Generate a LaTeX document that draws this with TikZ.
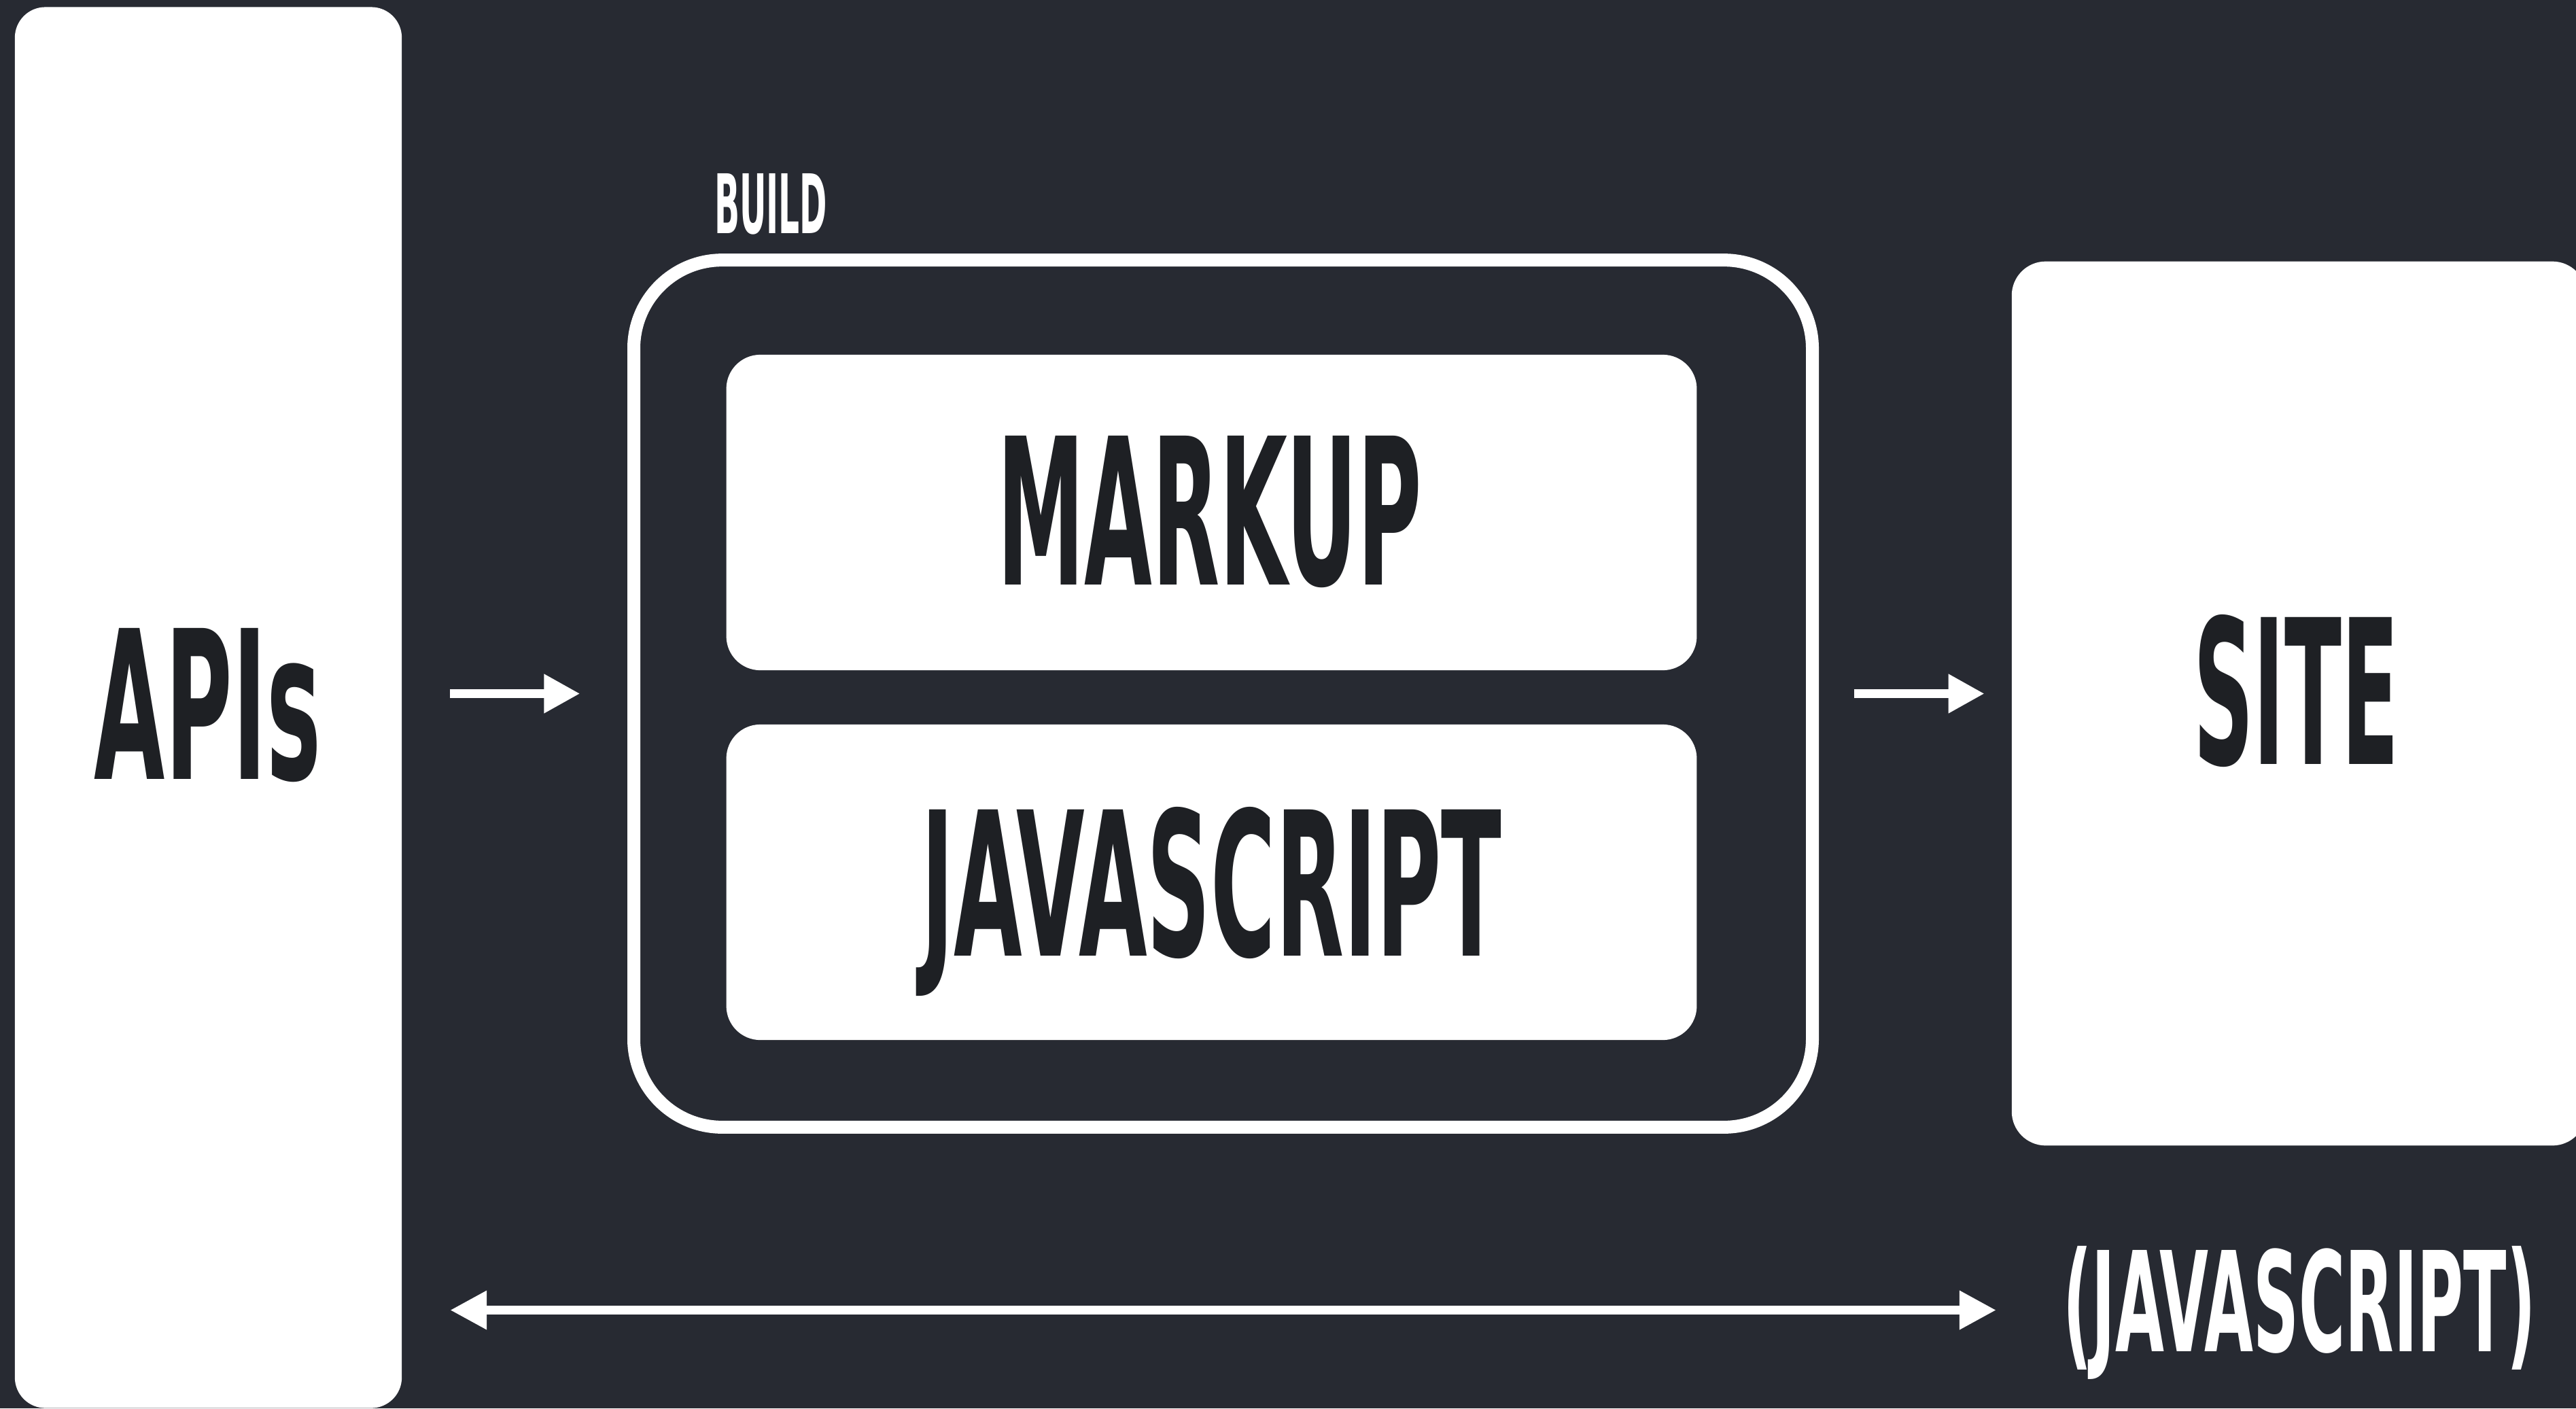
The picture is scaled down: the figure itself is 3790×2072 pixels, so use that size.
\documentclass[tikz,border=0pt]{standalone}
\usepackage{fontspec}
\setmainfont{DejaVu Sans}
\usepackage{graphicx}
\usetikzlibrary{arrows.meta}
\definecolor{bg}{RGB}{39,42,50}
\definecolor{textdark}{RGB}{30,32,36}
\newcommand{\fitword}[3]{\resizebox{#1}{#2}{\bfseries #3}}
\tikzset{
  whitebox/.style={rectangle, fill=white, draw=none, inner sep=0pt, outer sep=0pt},
  buildbox/.style={rectangle, draw=white, line width=0.19cm, rounded corners=1.3cm, inner sep=0pt, outer sep=0pt},
  darkword/.style={text=textdark, inner sep=0pt, outer sep=0pt, anchor=base west},
  lightword/.style={text=white, inner sep=0pt, outer sep=0pt, anchor=base west},
  flowarrow/.style={draw=white, line width=0.135cm, -{Triangle[length=0.53cm, width=0.54cm]}},
  bothways/.style={draw=white, line width=0.13cm, {Triangle[length=0.54cm, width=0.54cm]}-{Triangle[length=0.54cm, width=0.54cm]}}
}
\begin{document}
\begin{tikzpicture}[x=0.01cm, y=-0.01cm]
\useasboundingbox (0,0) rectangle (3790,2072);
\fill[bg] (0,0) rectangle (3790,2072);
\clip (0,0) rectangle (3790,2072);

% boxes
\node[whitebox, rounded corners=0.45cm, minimum width=5.69cm, minimum height=20.6cm] (apis) at (306.5,1041) {};
\node[buildbox, minimum width=17.33cm, minimum height=12.75cm] (build) at (1799.5,1020.5) {};
\node[whitebox, rounded corners=0.5cm, minimum width=14.27cm, minimum height=4.64cm] (markup) at (1782.5,754) {};
\node[whitebox, rounded corners=0.5cm, minimum width=14.27cm, minimum height=4.64cm] (js) at (1782.5,1298) {};
\node[whitebox, rounded corners=0.5cm, minimum width=8.45cm, minimum height=13.0cm] (site) at (3382.5,1035) {};

% texts
\node[darkword] (apistext) at (139,1146) {\fitword{3.33cm}{2.22cm}{APIs}};
\node[darkword] (markuptext) at (1467,860) {\fitword{6.24cm}{2.19cm}{MARKUP}};
\node[darkword] (jstext) at (1355,1406) {\fitword{8.54cm}{2.19cm}{JAVASCRIPT}};
\node[darkword] (sitetext) at (3227,1124) {\fitword{3.02cm}{2.20cm}{SITE}};
\node[lightword] (buildtext) at (1051,343) {\fitword{1.66cm}{0.88cm}{BUILD}};
\node[lightword] (jsr) at (3035,1988) {\fitword{6.95cm}{1.55cm}{(JAVASCRIPT)}};

% connectors
\coordinate (bottomlane) at (0,1927.5);
\draw[flowarrow, shorten <=0.71cm, shorten >=0.79cm] (apis.east |- build.west) -- (build.west);
\draw[flowarrow, shorten <=0.61cm, shorten >=0.40cm] (build.east) -- (site.west |- build.east);
\draw[bothways, shorten <=0.71cm, shorten >=0.98cm] (apis.east |- bottomlane) -- (jsr.west |- bottomlane);
\end{tikzpicture}
\end{document}
